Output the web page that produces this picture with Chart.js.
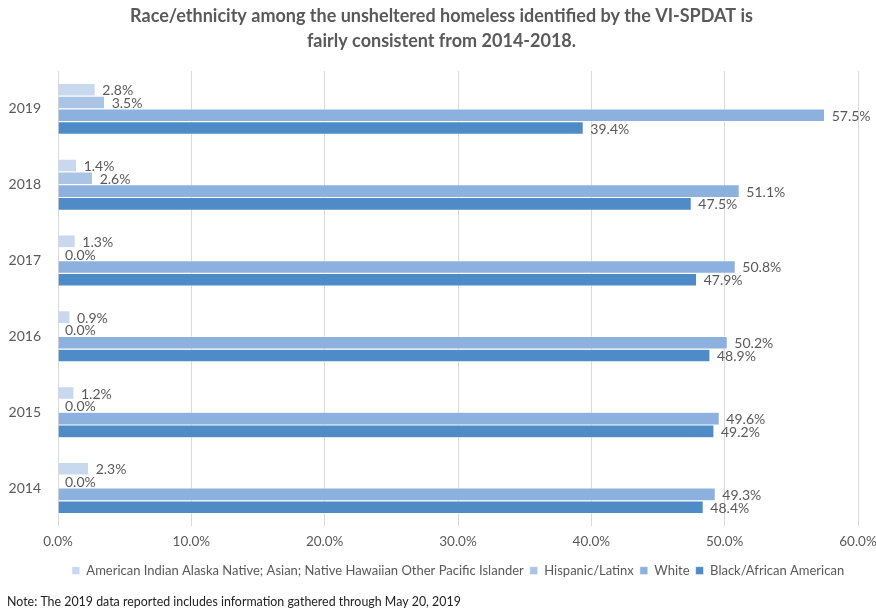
<!DOCTYPE html>
<html>
<head>
<meta charset="utf-8">
<script src="https://cdn.jsdelivr.net/npm/chart.js@4/dist/chart.umd.min.js"></script>
<style>
html,body{margin:0;padding:0;background:#fff;}
#wrap{width:876px;height:609px;}
</style>
</head>
<body>
<div id="wrap"><canvas id="c" width="876" height="609"></canvas></div>
<script>
const categories = ['2019','2018','2017','2016','2015','2014'];
const seriesNames = ['American Indian Alaska Native; Asian; Native Hawaiian Other Pacific Islander','Hispanic/Latinx','White','Black/African American'];
const americanIndianEtc = [2.8, 1.4, 1.3, 0.9, 1.2, 2.3];
const hispanicLatinx = [3.5, 2.6, 0.0, 0.0, 0.0, 0.0];
const white = [57.5, 51.1, 50.8, 50.2, 49.6, 49.3];
const blackAfricanAmerican = [39.4, 47.5, 47.9, 48.9, 49.2, 48.4];
const xTicks = [0, 10, 20, 30, 40, 50, 60];
const titleLines = ['Race/ethnicity among the unsheltered homeless identified by the VI-SPDAT is','fairly consistent from 2014-2018.'];
const noteText = 'Note: The 2019 data reported includes information gathered through May 20, 2019';

const colors = ['#c8d8ee', '#aac4e6', '#8cb1de', '#4f8bc6'];
const FONT = "Lato, 'Noto Sans', sans-serif";
const GRAY = '#595959';

const valueLabels = {
  id: 'valueLabels',
  afterDatasetsDraw(chart) {
    const ctx = chart.ctx;
    ctx.save();
    ctx.font = '14px ' + FONT;
    ctx.fillStyle = GRAY;
    ctx.textAlign = 'left';
    ctx.textBaseline = 'middle';
    chart.data.datasets.forEach((ds, di) => {
      const meta = chart.getDatasetMeta(di);
      meta.data.forEach((el, i) => {
        ctx.fillText(ds.data[i].toFixed(1) + '%', el.x + 7, el.y + 1);
      });
    });
    ctx.restore();
  }
};

const allSeries = [americanIndianEtc, hispanicLatinx, white, blackAfricanAmerican];

new Chart(document.getElementById('c'), {
  type: 'bar',
  data: {
    labels: categories,
    datasets: allSeries.map((d, i) => ({
      label: seriesNames[i],
      data: d,
      backgroundColor: colors[i],
      borderColor: '#ffffff',
      borderWidth: 0.6,
      barPercentage: 1.0,
      categoryPercentage: 0.675
    }))
  },
  options: {
    indexAxis: 'y',
    responsive: false,
    animation: false,
    layout: { padding: { left: 7, right: 0, top: 2, bottom: 0 } },
    scales: {
      x: {
        min: 0, max: 60,
        afterBuildTicks(axis) { axis.ticks = xTicks.map(v => ({ value: v })); },
        afterFit(axis) { axis.paddingRight = 18; axis.paddingLeft = 0; },
        ticks: {
          callback: v => Number(v).toFixed(1) + '%',
          color: GRAY,
          font: { family: FONT, size: 13.5 },
          padding: 8,
          maxRotation: 0
        },
        grid: { color: '#d9d9d9', drawTicks: false, lineWidth: 1 },
        border: { display: false }
      },
      y: {
        afterFit(axis) { axis.width = 51; },
        ticks: {
          color: GRAY,
          font: { family: FONT, size: 14 },
          padding: 9
        },
        grid: { display: false },
        border: { display: false }
      }
    },
    plugins: {
      title: {
        display: true,
        text: titleLines,
        color: GRAY,
        font: { family: FONT, size: 18, weight: 'bold', lineHeight: 1.36 },
        padding: { top: 2, bottom: 18 }
      },
      subtitle: {
        display: true,
        text: noteText,
        position: 'bottom',
        align: 'start',
        color: '#222',
        font: { family: FONT, size: 12.4 },
        padding: { top: 7, bottom: 0 }
      },
      legend: {
        position: 'bottom',
        fullSize: false,
        labels: {
          boxWidth: 8,
          boxHeight: 8,
          color: GRAY,
          font: { family: FONT, size: 13 },
          padding: 6
        }
      },
      tooltip: { enabled: false }
    }
  },
  plugins: [valueLabels]
});
</script>
</body>
</html>
